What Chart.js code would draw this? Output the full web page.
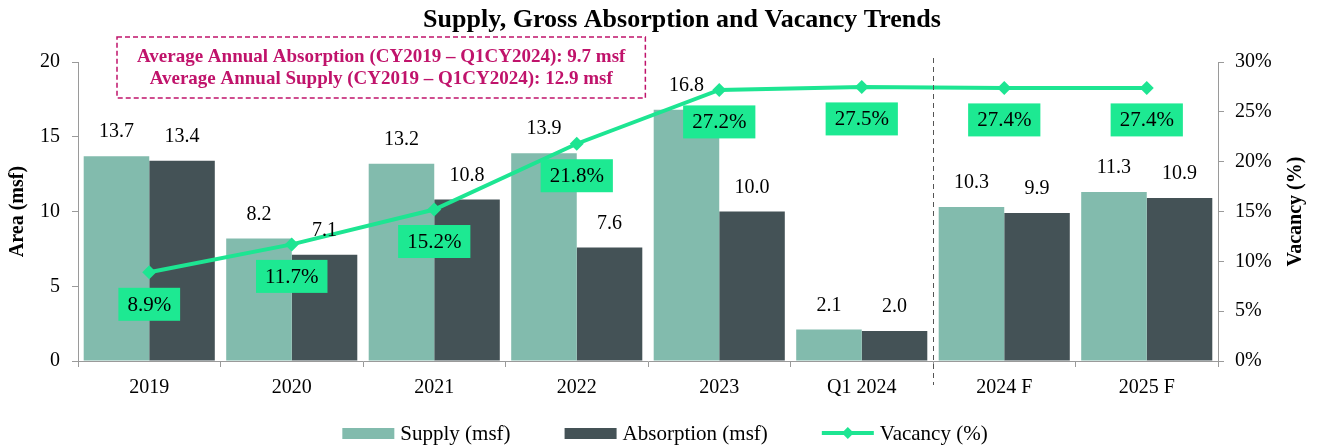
<!DOCTYPE html>
<html>
<head>
<meta charset="utf-8">
<title>Supply, Gross Absorption and Vacancy Trends</title>
<script src="https://cdn.jsdelivr.net/npm/chart.js@4.4.1/dist/chart.umd.min.js"></script>
<style>
  html, body { margin: 0; padding: 0; background: #ffffff; }
  #wrap { width: 1319px; height: 445px; }
</style>
</head>
<body>
<div id="wrap"><canvas id="trendChart"></canvas></div>
<script>
// Chart data
const categories = ["2019", "2020", "2021", "2022", "2023", "Q1 2024", "2024 F", "2025 F"];
const supply = [13.7, 8.2, 13.2, 13.9, 16.8, 2.1, 10.3, 11.3];
const absorption = [13.4, 7.1, 10.8, 7.6, 10.0, 2.0, 9.9, 10.9];
const vacancy = [8.9, 11.7, 15.2, 21.8, 27.2, 27.5, 27.4, 27.4];
const areaTicks = [0, 5, 10, 15, 20];
const vacancyTicks = [0, 5, 10, 15, 20, 25, 30];
const forecastStart = 6; // first forecast category ("2024 F")
const noteLines = [
  "Average Annual Absorption (CY2019 \u2013 Q1CY2024): 9.7 msf",
  "Average Annual Supply (CY2019 \u2013 Q1CY2024): 12.9 msf",
];

// Colours
const SUPPLY_COLOR = "#82bbad";
const ABSORPTION_COLOR = "#445256";
const VACANCY_COLOR = "#1de592";
const VACANCY_LABEL_BG = "#1de992";
const NOTE_COLOR = "#c0136b";
const AXIS_GREY = "#9a9a9a";
const SERIF = "'Liberation Serif', 'Times New Roman', serif";

// Labels, title, note box, forecast divider and legend
const overlays = {
  id: "overlays",
  afterDatasetsDraw(chart) {
    const ctx = chart.ctx;
    ctx.save();
    ctx.textAlign = "center";
    ctx.textBaseline = "middle";

    // value labels above the bars
    ctx.font = "20px " + SERIF;
    [0, 1].forEach(function (di) {
      const meta = chart.getDatasetMeta(di);
      const values = chart.data.datasets[di].data;
      meta.data.forEach(function (bar, i) {
        ctx.fillStyle = "#000000";
        ctx.fillText(values[i].toFixed(1), bar.x, bar.y - 24);
      });
    });

    // vacancy labels in green boxes below the points
    ctx.font = "21px " + SERIF;
    const lineMeta = chart.getDatasetMeta(2);
    lineMeta.data.forEach(function (pt, i) {
      const text = vacancy[i].toFixed(1) + "%";
      const w = ctx.measureText(text).width + 18;
      const h = 33;
      const cy = pt.y + 32;
      ctx.fillStyle = VACANCY_LABEL_BG;
      ctx.fillRect(pt.x - w / 2, cy - h / 2, w, h);
      ctx.fillStyle = "#000000";
      ctx.fillText(text, pt.x, cy + 1);
    });
    ctx.restore();
  },
  afterDraw(chart) {
    const ctx = chart.ctx;
    const area = chart.chartArea;
    const x = chart.scales.x;
    ctx.save();

    // title
    ctx.fillStyle = "#000000";
    ctx.font = "bold 26px " + SERIF;
    ctx.textAlign = "center";
    ctx.textBaseline = "middle";
    ctx.fillText("Supply, Gross Absorption and Vacancy Trends", (area.left + area.right) / 2 + 34, 20);

    // note box
    ctx.font = "bold 19px " + SERIF;
    const textW = Math.max.apply(null, noteLines.map(function (t) { return ctx.measureText(t).width; }));
    const boxL = area.left + 39;
    const boxT = area.top - 25;
    const boxW = textW + 40;
    const boxH = 61;
    ctx.strokeStyle = NOTE_COLOR;
    ctx.lineWidth = 1.5;
    ctx.setLineDash([5, 3]);
    ctx.strokeRect(boxL, boxT, boxW, boxH);
    ctx.setLineDash([]);
    ctx.fillStyle = NOTE_COLOR;
    noteLines.forEach(function (t, i) {
      ctx.fillText(t, boxL + boxW / 2, boxT + 20 + i * 22);
    });

    // dashed divider before the forecast years
    const divX = Math.round((x.getPixelForValue(forecastStart - 1) + x.getPixelForValue(forecastStart)) / 2) + 0.5;
    ctx.strokeStyle = "#555555";
    ctx.lineWidth = 1;
    ctx.setLineDash([5, 4]);
    ctx.beginPath();
    ctx.moveTo(divX, area.top - 4);
    ctx.lineTo(divX, area.bottom + 24);
    ctx.stroke();
    ctx.setLineDash([]);

    // right axis title, reading bottom to top
    ctx.fillStyle = "#000000";
    ctx.font = "bold 20px " + SERIF;
    ctx.translate(1296, (area.top + area.bottom) / 2);
    ctx.rotate(-Math.PI / 2);
    ctx.fillText("Vacancy (%)", 0, 0);
    ctx.setTransform(1, 0, 0, 1, 0, 0);

    // legend
    ctx.font = "21px " + SERIF;
    ctx.textAlign = "left";
    const items = chart.data.datasets.map(function (ds) {
      return { label: ds.label, color: ds.borderColor || ds.backgroundColor, type: ds.type || "bar" };
    });
    const swatch = 52, gap = 6, spacing = 54;
    let total = 0;
    items.forEach(function (it, i) {
      it.w = swatch + gap + ctx.measureText(it.label).width;
      total += it.w + (i ? spacing : 0);
    });
    let lx = 665 - total / 2;
    const ly = 433;
    items.forEach(function (it) {
      if (it.type === "line") {
        ctx.strokeStyle = it.color;
        ctx.lineWidth = 4;
        ctx.beginPath();
        ctx.moveTo(lx, ly);
        ctx.lineTo(lx + swatch, ly);
        ctx.stroke();
        ctx.fillStyle = it.color;
        ctx.beginPath();
        ctx.moveTo(lx + swatch / 2, ly - 6);
        ctx.lineTo(lx + swatch / 2 + 6, ly);
        ctx.lineTo(lx + swatch / 2, ly + 6);
        ctx.lineTo(lx + swatch / 2 - 6, ly);
        ctx.closePath();
        ctx.fill();
      } else {
        ctx.fillStyle = it.color;
        ctx.fillRect(lx, ly - 5, swatch, 11);
      }
      ctx.fillStyle = "#000000";
      ctx.fillText(it.label, lx + swatch + gap, ly + 1);
      lx += it.w + spacing;
    });
    ctx.restore();
  },
};

new Chart(document.getElementById("trendChart"), {
  type: "bar",
  data: {
    labels: categories,
    datasets: [
      {
        label: "Supply (msf)",
        data: supply,
        backgroundColor: SUPPLY_COLOR,
        borderWidth: 0,
        yAxisID: "y",
        order: 1,
      },
      {
        label: "Absorption (msf)",
        data: absorption,
        backgroundColor: ABSORPTION_COLOR,
        borderWidth: 0,
        yAxisID: "y",
        order: 1,
      },
      {
        type: "line",
        label: "Vacancy (%)",
        data: vacancy,
        borderColor: VACANCY_COLOR,
        backgroundColor: VACANCY_COLOR,
        borderWidth: 4,
        pointStyle: "rectRot",
        pointRadius: 7,
        pointBorderWidth: 0,
        pointBackgroundColor: VACANCY_COLOR,
        tension: 0,
        yAxisID: "y1",
        order: 0,
      },
    ],
  },
  options: {
    responsive: true,
    maintainAspectRatio: false,
    animation: false,
    layout: {
      padding: { top: 62, left: 2, right: 6, bottom: 0 },
    },
    datasets: {
      bar: {
        categoryPercentage: 0.92,
        barPercentage: 1.0,
      },
    },
    plugins: {
      legend: { display: false },
      title: { display: false },
      tooltip: { enabled: false },
    },
    scales: {
      x: {
        grid: {
          offset: true,
          drawOnChartArea: false,
          tickLength: 6,
          color: AXIS_GREY,
        },
        border: { color: AXIS_GREY },
        ticks: {
          color: "#000000",
          padding: 9,
          font: { family: SERIF, size: 20 },
        },
        afterFit: function (scale) {
          scale.height = 84;
        },
      },
      y: {
        position: "left",
        min: 0,
        max: 20,
        afterBuildTicks: function (axis) {
          axis.ticks = areaTicks.map(function (v) { return { value: v }; });
        },
        grid: {
          drawOnChartArea: false,
          tickLength: 6,
          color: AXIS_GREY,
        },
        border: { color: AXIS_GREY },
        ticks: {
          color: "#000000",
          padding: 12,
          font: { family: SERIF, size: 20 },
        },
        title: {
          display: true,
          text: "Area (msf)",
          color: "#000000",
          font: { family: SERIF, size: 20, weight: "bold" },
        },
        afterFit: function (scale) {
          scale.width = 76;
        },
      },
      y1: {
        position: "right",
        min: 0,
        max: 30,
        afterBuildTicks: function (axis) {
          axis.ticks = vacancyTicks.map(function (v) { return { value: v }; });
        },
        grid: {
          drawOnChartArea: false,
          tickLength: 6,
          color: AXIS_GREY,
        },
        border: { color: AXIS_GREY },
        ticks: {
          color: "#000000",
          padding: 11,
          font: { family: SERIF, size: 20 },
          callback: function (value) {
            return value + "%";
          },
        },
        afterFit: function (scale) {
          scale.width = 95;
        },
      },
    },
  },
  plugins: [overlays],
});
</script>
</body>
</html>
